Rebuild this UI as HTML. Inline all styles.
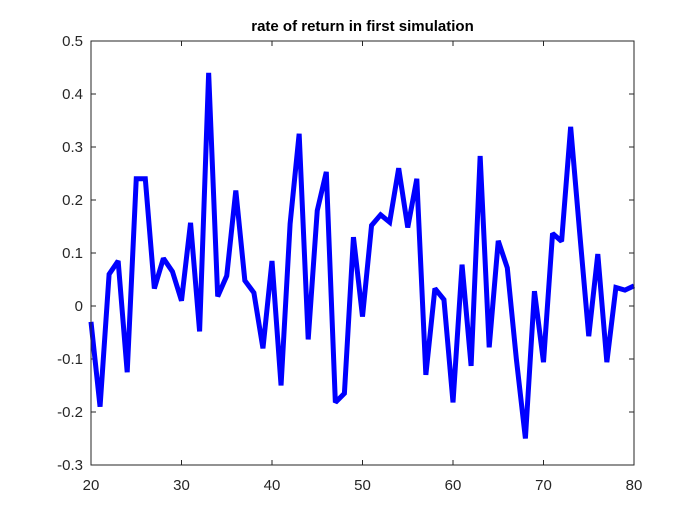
<!DOCTYPE html>
<html><head><meta charset="utf-8"><style>
html,body{margin:0;padding:0;background:#fff;}
svg{display:block;font-family:"Liberation Sans",Arial,sans-serif;}
</style></head><body>
<svg id="chart" width="700" height="525">
<rect x="0" y="0" width="700" height="525" fill="#fff"/>
<text x="362.5" y="31" text-anchor="middle" font-size="15" font-weight="bold" fill="#000">rate of return in first simulation</text>
<g id="ticks"></g>
<path id="line" fill="none" stroke="#0000ff" stroke-width="5" stroke-linejoin="miter" stroke-miterlimit="2"/>
<rect x="91" y="41" width="543" height="424" fill="none" stroke="#262626" stroke-width="1"/>
</svg>
<script>
const xValues = [20,21,22,23,24,25,26,27,28,29,30,31,32,33,34,35,36,37,38,39,40,41,42,43,44,45,46,47,48,49,50,51,52,53,54,55,56,57,58,59,60,61,62,63,64,65,66,67,68,69,70,71,72,73,74,75,76,77,78,79,80];
const returns = [-0.03,-0.19,0.06,0.085,-0.125,0.24,0.24,0.033,0.09,0.065,0.01,0.157,-0.048,0.44,0.018,0.057,0.218,0.048,0.025,-0.08,0.085,-0.15,0.155,0.325,-0.063,0.18,0.253,-0.182,-0.165,0.13,-0.02,0.152,0.172,0.158,0.26,0.148,0.24,-0.13,0.033,0.012,-0.182,0.078,-0.113,0.283,-0.078,0.123,0.072,-0.1,-0.25,0.028,-0.106,0.137,0.122,0.338,0.138,-0.057,0.098,-0.106,0.035,0.03,0.038];
const xTicks = [20,30,40,50,60,70,80];
const yTicks = [-0.3,-0.2,-0.1,0,0.1,0.2,0.3,0.4,0.5];
const yTickLabels = ["-0.3","-0.2","-0.1","0","0.1","0.2","0.3","0.4","0.5"];

const L=91,R=634,T=41,B=465;
const xMin=20,xMax=80,yMin=-0.3,yMax=0.5;
function sx(v){return L+(v-xMin)/(xMax-xMin)*(R-L);}
function sy(v){return B-(v-yMin)/(yMax-yMin)*(B-T);}

const NS="http://www.w3.org/2000/svg";
const g=document.getElementById('ticks');
xTicks.forEach(function(t){
  const x=sx(t);
  const l1=document.createElementNS(NS,'line');
  l1.setAttribute('x1',x);l1.setAttribute('x2',x);l1.setAttribute('y1',B);l1.setAttribute('y2',B-5);
  l1.setAttribute('stroke','#262626');
  
  
  g.appendChild(l1);
  const l2=document.createElementNS(NS,'line');
  l2.setAttribute('x1',x);l2.setAttribute('x2',x);l2.setAttribute('y1',T);l2.setAttribute('y2',T+5);
  l2.setAttribute('stroke','#262626');
  
  
  g.appendChild(l2);
  const tx=document.createElementNS(NS,'text');
  tx.setAttribute('x',x);tx.setAttribute('y',B+25);
  tx.setAttribute('text-anchor','middle');tx.setAttribute('font-size','15');tx.setAttribute('fill','#262626');
  tx.textContent=String(t);
  
  
  g.appendChild(tx);
});
yTicks.forEach(function(t,i){
  const y=sy(t);
  const l1=document.createElementNS(NS,'line');
  l1.setAttribute('x1',L);l1.setAttribute('x2',L+5);l1.setAttribute('y1',y);l1.setAttribute('y2',y);
  l1.setAttribute('stroke','#262626');
  
  
  g.appendChild(l1);
  const l2=document.createElementNS(NS,'line');
  l2.setAttribute('x1',R);l2.setAttribute('x2',R-5);l2.setAttribute('y1',y);l2.setAttribute('y2',y);
  l2.setAttribute('stroke','#262626');
  
  
  g.appendChild(l2);
  const tx=document.createElementNS(NS,'text');
  tx.setAttribute('x',L-8);tx.setAttribute('y',y+5);
  tx.setAttribute('text-anchor','end');tx.setAttribute('font-size','15');tx.setAttribute('fill','#262626');
  tx.textContent=yTickLabels[i];
  
  
  g.appendChild(tx);
});
let d='';
xValues.forEach(function(xv,i){d+=(i?'L':'M')+sx(xv).toFixed(2)+','+sy(returns[i]).toFixed(2);});
document.getElementById('line').setAttribute('d',d);
</script>
</body></html>
